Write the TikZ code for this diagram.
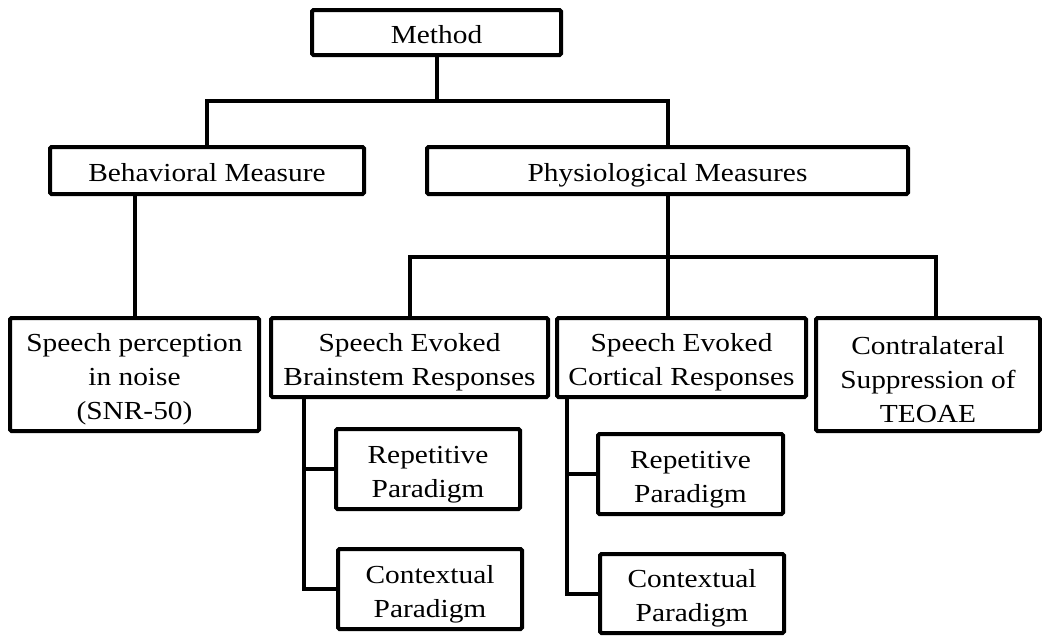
\documentclass[tikz,border=0pt]{standalone}
\usepackage{fontspec}
\setmainfont{Liberation Serif}[FakeStretch=1.13]
\newcommand\mytopstrut{\rule{0pt}{28pt}}
\begin{document}
\begin{tikzpicture}[
  box/.style={draw, line width=4pt, rectangle, rounded corners=1.5pt, align=center, inner sep=0pt,
              font=\fontsize{26}{34}\selectfont},
  onebox/.style={box, execute at begin node={\rule[-6pt]{0pt}{34pt}}},
  conn/.style={line width=4pt, line join=miter}]
\useasboundingbox (0,0) rectangle (1042pt,-635pt);
% nodes
\node[onebox, minimum width=249pt, minimum height=45pt] (method) at (436.5pt,-32.5pt) {Method};
\node[onebox, minimum width=314pt, minimum height=47pt] (beh) at (207pt,-170.5pt) {Behavioral Measure};
\node[onebox, minimum width=481pt, minimum height=47pt] (phys) at (667.5pt,-170.5pt) {Physiological Measures};
\node[box, minimum width=249pt, minimum height=113pt] (spn) at (134.5pt,-374.5pt) {\mytopstrut Speech perception\\in noise\\(SNR-50)};
\node[box, minimum width=277pt, minimum height=79pt] (sebr) at (409.5pt,-357.5pt) {\mytopstrut Speech Evoked\\Brainstem Responses};
\node[box, minimum width=249pt, minimum height=79pt] (secr) at (681.5pt,-357.5pt) {\mytopstrut Speech Evoked\\Cortical Responses};
\node[box, minimum width=224pt, minimum height=113pt] (cs) at (928pt,-374.5pt) {\mytopstrut Contralateral\\Suppression of\\TEOAE};
\node[box, minimum width=184pt, minimum height=80pt] (rep1) at (428pt,-469pt) {\mytopstrut Repetitive\\Paradigm};
\node[box, minimum width=184pt, minimum height=80pt] (con1) at (430pt,-589pt) {\mytopstrut Contextual\\Paradigm};
\node[box, minimum width=185pt, minimum height=80pt] (rep2) at (690.5pt,-474pt) {\mytopstrut Repetitive\\Paradigm};
\node[box, minimum width=184pt, minimum height=79pt] (con2) at (692pt,-593.5pt) {\mytopstrut Contextual\\Paradigm};
% helper coordinates
\coordinate (bus1) at (437pt,-101pt);
\coordinate (bus2) at (668pt,-257pt);
\coordinate (drop3) at (936pt,-318pt);
\coordinate (t1) at (304pt,0pt);
\coordinate (t2) at (567pt,0pt);
% connectors
\draw[conn] (method.south) -- (method.south |- bus1);
\draw[conn] (beh.north) -- (beh.north |- bus1) -- (phys.north |- bus1) -- (phys.north);
\draw[conn] (spn.north |- beh.south) -- (spn.north);
\draw[conn] (phys.south) -- (phys.south |- secr.north);
\draw[conn] (sebr.north) -- (sebr.north |- bus2) -- (drop3 |- bus2) -- (drop3);
\draw[conn] (t1 |- sebr.south) -- (t1 |- con1.west) -- (con1.west);
\draw[conn] (t1 |- rep1.west) -- (rep1.west);
\draw[conn] (t2 |- secr.south) -- (t2 |- con2.west) -- (con2.west);
\draw[conn] (t2 |- rep2.west) -- (rep2.west);
\end{tikzpicture}
\end{document}
